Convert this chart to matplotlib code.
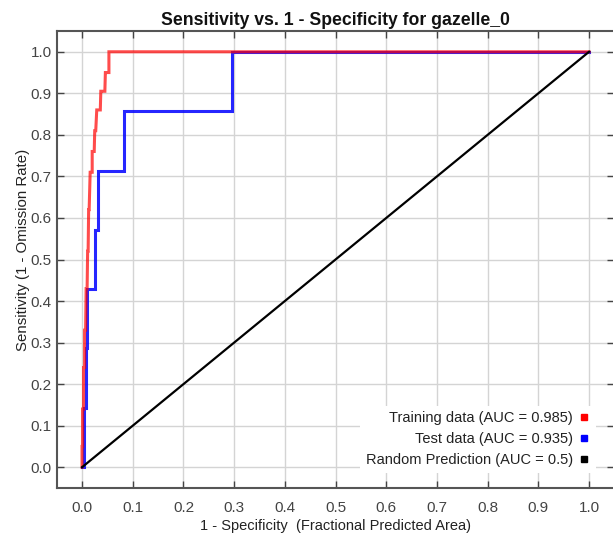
import matplotlib
matplotlib.use("Agg")
import matplotlib.pyplot as plt
from matplotlib.lines import Line2D

plt.rcParams['font.family'] = ['Liberation Sans', 'DejaVu Sans']

# Training ROC (vertices of the staircase)
train_fpr = [0, 0.000, 0.001, 0.001, 0.003, 0.003, 0.005, 0.005, 0.007, 0.008, 0.010,
             0.011, 0.012, 0.013, 0.014, 0.016, 0.020, 0.020, 0.024, 0.025, 0.027,
             0.029, 0.036, 0.037, 0.039, 0.045, 0.046, 0.047, 0.053, 0.053, 1.0]
train_tpr = [0, 0.05, 0.05, 0.14, 0.14, 0.24, 0.24, 0.33, 0.33, 0.43, 0.43,
             0.52, 0.52, 0.62, 0.62, 0.71, 0.71, 0.76, 0.76, 0.81, 0.81,
             0.86, 0.86, 0.905, 0.905, 0.905, 0.95, 0.95, 0.95, 1.0, 1.0]

# Test ROC
test_fpr = [0, 0.004, 0.004, 0.007, 0.007, 0.010, 0.010, 0.026, 0.026, 0.032,
            0.032, 0.082, 0.082, 0.296, 0.296, 1.0]
test_tpr = [0, 0.0, 0.143, 0.143, 0.286, 0.286, 0.429, 0.429, 0.571, 0.571,
            0.714, 0.714, 0.857, 0.857, 1.0, 1.0]

# Random prediction
rand_x = [0, 1]
rand_y = [0, 1]

labels = ["Training data (AUC = 0.985)", "Test data (AUC = 0.935)",
          "Random Prediction (AUC = 0.5)"]
colors = ["#ff0000", "#0000ff", "#000000"]
ticks = [0.0, 0.1, 0.2, 0.3, 0.4, 0.5, 0.6, 0.7, 0.8, 0.9, 1.0]
tick_labels = ["0.0", "0.1", "0.2", "0.3", "0.4", "0.5", "0.6", "0.7", "0.8", "0.9", "1.0"]

fig = plt.figure(figsize=(6.13, 5.33), dpi=100)
ax = fig.add_axes([56.7/613, 45/533, 557.7/613, 457/533])

ax.plot(test_fpr, test_tpr, color=colors[1], lw=2.2, alpha=0.85, solid_joinstyle='miter', zorder=3)
ax.plot(train_fpr, train_tpr, color=colors[0], lw=2.2, alpha=0.7, solid_joinstyle='miter', zorder=4)
ax.plot(rand_x, rand_y, color=colors[2], lw=1.6, zorder=5)

ax.set_xlim(-0.05, 1.05)
ax.set_ylim(-0.05, 1.05)
ax.set_xticks(ticks)
ax.set_xticklabels(tick_labels)
ax.set_yticks(ticks)
ax.set_yticklabels(tick_labels)
ax.grid(True, color="#d4d4d4", lw=1.0, zorder=0)
ax.set_axisbelow(True)
ax.tick_params(direction='in', length=5, width=1, color="#444444",
               top=True, right=True, labelsize=11, labelcolor="#444444")
ax.tick_params(axis='x', pad=9)
ax.tick_params(axis='y', pad=3.5)
for s in ax.spines.values():
    s.set_color("#555555")
    s.set_linewidth(1.5)

ax.set_title("Sensitivity vs. 1 - Specificity for gazelle_0", fontsize=12.7,
             fontweight='bold', pad=4, color="#111111")
ax.set_xlabel("1 - Specificity  (Fractional Predicted Area)", fontsize=10.5,
              color="#222222")
ax.xaxis.set_label_coords(0.5, -0.083)
ax.xaxis.label.set_va('center')
ax.set_ylabel("Sensitivity (1 - Omission Rate)", fontsize=10.8, color="#222222")
ax.yaxis.set_label_coords(-0.0485, 0.521)

handles = [Line2D([], [], marker='s', linestyle='none', color=c, markersize=5) for c in colors]
leg = ax.legend(handles, labels, loc='lower right', markerfirst=False, fontsize=10.5,
                frameon=True, fancybox=False, edgecolor='none', framealpha=1.0,
                handletextpad=0.4, handlelength=0.8, borderaxespad=0.0,
                labelspacing=0.47, bbox_to_anchor=(0.967, 0.033))
for t in leg.get_texts():
    t.set_color("#222222")

fig.savefig("out.png", dpi=100)
